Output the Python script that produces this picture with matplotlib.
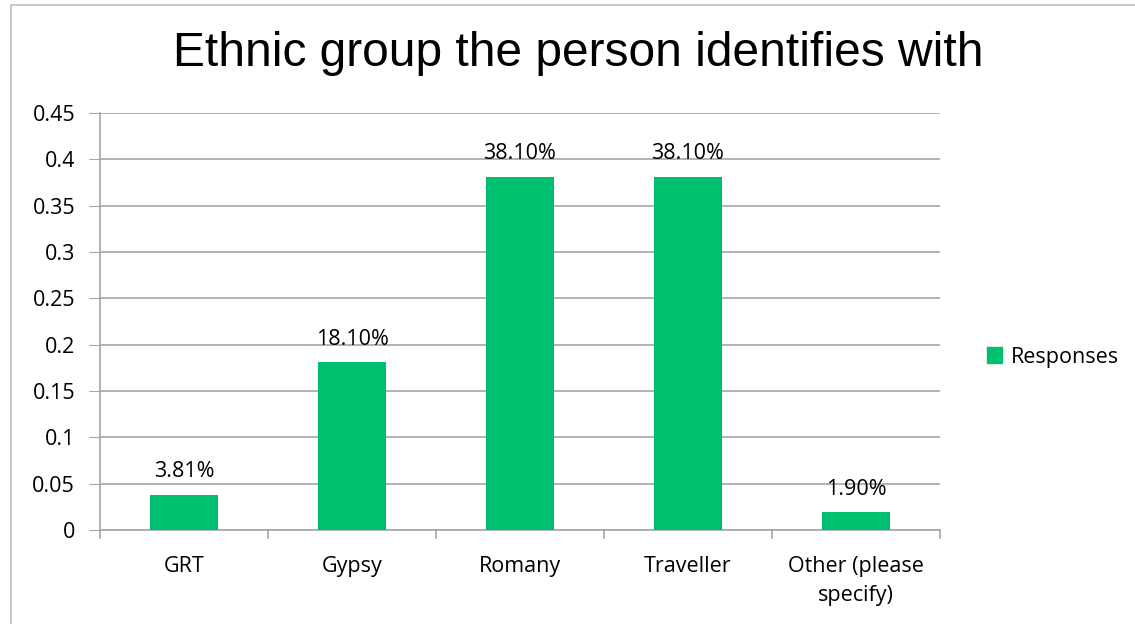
import matplotlib.pyplot as plt
from matplotlib.patches import Rectangle, Patch

categories = ["GRT", "Gypsy", "Romany", "Traveller", "Other (please\nspecify)"]
responses = [0.0381, 0.181, 0.381, 0.381, 0.019]
value_labels = ["3.81%", "18.10%", "38.10%", "38.10%", "1.90%"]
y_ticks = [0, 0.05, 0.1, 0.15, 0.2, 0.25, 0.3, 0.35, 0.4, 0.45]
y_tick_labels = ["0", "0.05", "0.1", "0.15", "0.2", "0.25", "0.3", "0.35", "0.4", "0.45"]

GREEN = "#00BF6F"
GRID = "#A6A6A6"
FONT = "Open Sans"
FS = 15.5

W, H = 1135, 624
fig = plt.figure(figsize=(W / 100, H / 100), dpi=100)
fig.patch.set_facecolor("white")

# chart frame
fig.patches.append(Rectangle((11 / W, -0.1), 1.2, 1 - 5 / H + 0.1,
                             transform=fig.transFigure, fill=False,
                             edgecolor="#BFBFBF", linewidth=1.2))

ax = fig.add_axes([100 / W, 1 - 530 / H, 840 / W, 417 / H])
x = list(range(len(categories)))
ax.bar(x, responses, width=0.4, color=GREEN, zorder=3)
ax.set_xlim(-0.5, len(categories) - 0.5)
ax.set_ylim(0, 0.45)
ax.set_yticks(y_ticks)
ax.set_yticklabels(y_tick_labels, fontfamily=FONT, fontsize=FS)
ax.set_xticks(x)
ax.set_xticklabels(categories, fontfamily=FONT, fontsize=FS, linespacing=1.5)
ax.tick_params(axis="x", length=0, pad=19)
ax.tick_params(axis="y", length=8, color=GRID, pad=10)
for b in [i - 0.5 for i in range(len(categories) + 1)]:
    ax.plot([b, b], [0, -0.0086], color=GRID, lw=1.2, clip_on=False, zorder=2)
ax.grid(axis="y", color=GRID, lw=1.2, zorder=0)
for s in ["top", "right"]:
    ax.spines[s].set_visible(False)
ax.spines["left"].set_color(GRID)
ax.spines["bottom"].set_color(GRID)
ax.spines["left"].set_linewidth(1.2)
ax.spines["bottom"].set_linewidth(1.2)

for xi, v, lab in zip(x, responses, value_labels):
    ax.annotate(lab, (xi, v), xytext=(0, 9), textcoords="offset points",
                ha="center", va="bottom", fontfamily=FONT, fontsize=FS)

fig.text(578 / W, 1 - 54 / H, "Ethnic group the person identifies with",
         ha="center", va="center", fontfamily="Liberation Sans", fontsize=34.5)

ax.legend(handles=[Patch(color=GREEN, label="Responses")], loc="center left",
          bbox_to_anchor=(968 / W, 1 - 357 / H), bbox_transform=fig.transFigure,
          frameon=False, prop={"family": FONT, "size": FS},
          handlelength=0.7, handleheight=0.7, handletextpad=0.4)

fig.savefig("out.png", dpi=100)
